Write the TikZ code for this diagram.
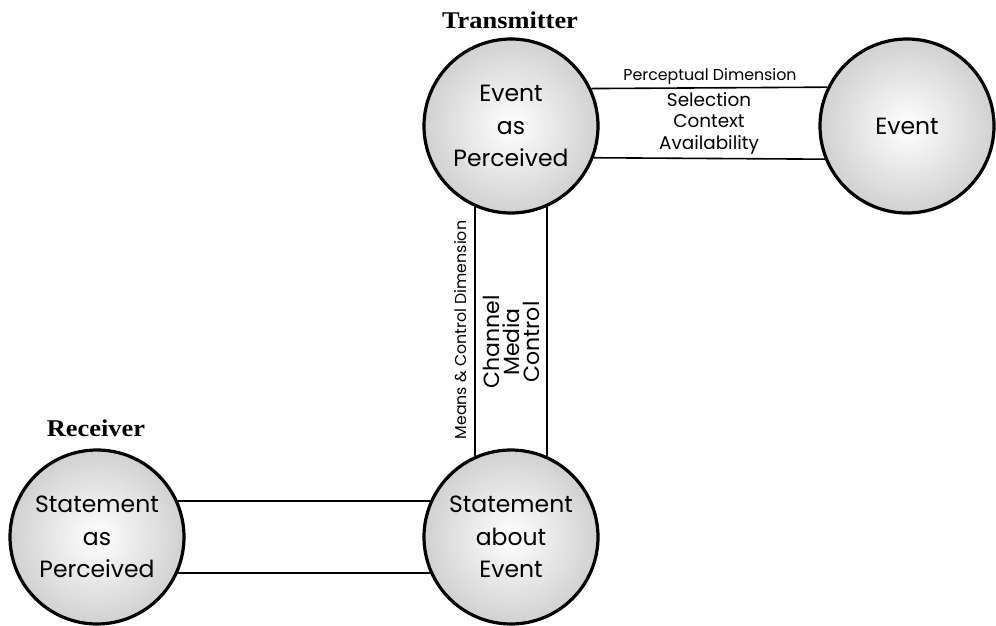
\documentclass[tikz,border=0pt]{standalone}
\usepackage{fontspec}
\setmainfont{Liberation Serif}
\newfontfamily\gothic{Poppins}
\begin{document}
\begin{tikzpicture}[x=1pt,y=-1pt,
  ball/.style={circle, draw=black, line width=3.2pt, inner color=white, outer color=gray!36,
    minimum size=174pt, inner sep=0pt, align=center, font=\gothic\fontsize{23.5}{32.5}\selectfont},
  link/.style={draw=black, line width=1.6pt},
  head/.style={font=\bfseries\fontsize{24}{26}\selectfont, xscale=1.1},
  small/.style={font=\gothic\fontsize{15.8}{18}\selectfont},
  mid/.style={font=\gothic\fontsize{18.4}{21.5}\selectfont, align=center},
  big/.style={font=\gothic\fontsize{22}{20}\selectfont, align=center}]
\useasboundingbox[fill=white] (0,0) rectangle (996,626);
\node[ball] (eap) at (511,126) {Event\\as\\Perceived};
\node[ball] (ev) at (907,126) {Event};
\node[ball] (sae) at (511,537) {Statement\\about\\Event};
\node[ball] (sap) at (97,537) {Statement\\as\\Perceived};
\draw[link] (eap.25.4) -- (ev.154.6);
\draw[link] (eap.-21.9) -- (ev.-158.1);
\draw[link] (eap.246) -- (sae.114);
\draw[link] (eap.294) -- (sae.66);
\draw[link] (sap.24) -- (sae.156);
\draw[link] (sap.-24) -- (sae.-156);
\node[head] (tr) at (510,20) {Transmitter};
\node[head] (rc) at (96,428) {Receiver};
\node[small] (pd) at (710,77) {Perceptual Dimension};
\node[mid] (sca) at (709,123) {Selection\\Context\\Availability};
\node[small, rotate=90] (mcd) at (461,330) {Means \& Control Dimension};
\node[big, rotate=90] (cmc) at (511,342) {Channel\\Media\\Control};
\end{tikzpicture}
\end{document}
